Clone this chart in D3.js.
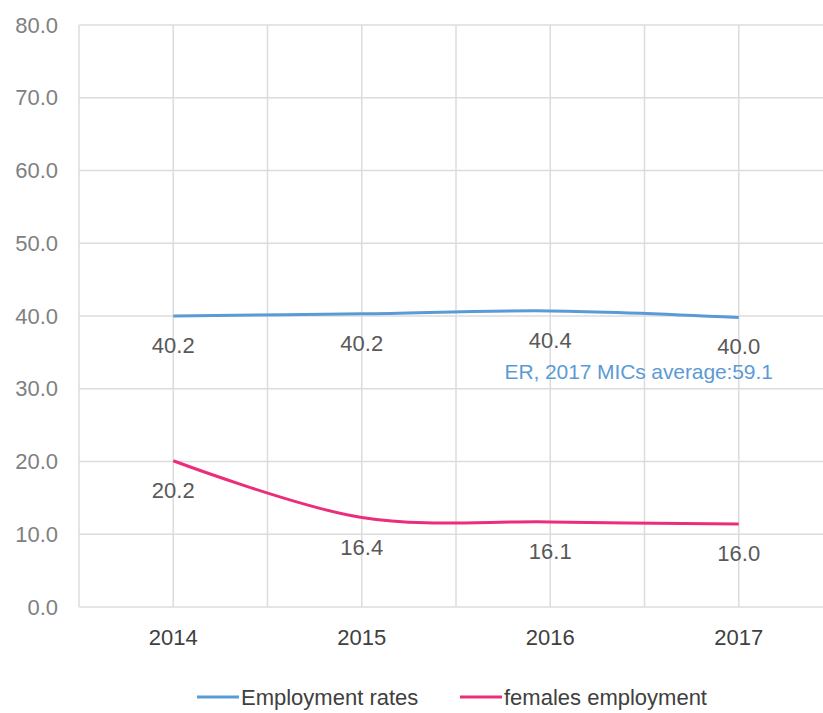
<!DOCTYPE html>
<html>
<head>
<meta charset="utf-8">
<script src="https://cdn.jsdelivr.net/npm/d3@7"></script>
<style>
  body { margin: 0; background: #fff; }
  text { font-family: "Liberation Sans", Arial, sans-serif; }
</style>
</head>
<body>
<div id="chart"></div>
<script>
// data
const years = ["2014", "2015", "2016", "2017"];
const employment = [40.0, 40.3, 40.7, 39.8];
const employmentLabels = ["40.2", "40.2", "40.4", "40.0"];
const females = [20.1, 12.3, 11.7, 11.4];
const femalesLabels = ["20.2", "16.4", "16.1", "16.0"];
const yTicks = [0, 10, 20, 30, 40, 50, 60, 70, 80];
const seriesNames = ["Employment rates", "females employment"];
const seriesColors = ["#5b9bd5", "#ec2d7c"];
const note = "ER, 2017 MICs average:59.1";

const width = 823, height = 713;
const margin = {top: 25, right: -10, bottom: 106, left: 79};
const innerW = width - margin.left - margin.right;
const innerH = height - margin.top - margin.bottom;

const svg = d3.select("#chart").append("svg")
    .attr("width", width)
    .attr("height", height);
const g = svg.append("g")
    .attr("transform", `translate(${margin.left},${margin.top})`);

const x = d3.scaleBand().domain(years).range([0, innerW]);
const xc = d => x(d) + x.bandwidth() / 2;
const y = d3.scaleLinear().domain([0, 80]).range([innerH, 0]);

// grid
const gridColor = "#dcdcdc";
g.selectAll(".hgrid").data(yTicks).enter().append("line")
    .attr("x1", 0).attr("x2", innerW)
    .attr("y1", d => y(d)).attr("y2", d => y(d))
    .attr("stroke", gridColor).attr("stroke-width", 1.5);
const vlines = [0].concat(years.map(d => x(d) + x.bandwidth()), years.map(xc));
g.selectAll(".vgrid").data(vlines).enter().append("line")
    .attr("x1", d => d).attr("x2", d => d)
    .attr("y1", 0).attr("y2", innerH)
    .attr("stroke", gridColor).attr("stroke-width", 1.5);

// y tick labels
g.selectAll(".ytick").data(yTicks).enter().append("text")
    .attr("x", -21).attr("y", d => y(d))
    .attr("dy", "0.35em")
    .attr("text-anchor", "end")
    .attr("font-size", 22)
    .attr("fill", "#808080")
    .text(d => d.toFixed(1));

// x tick labels
g.selectAll(".xtick").data(years).enter().append("text")
    .attr("x", d => xc(d)).attr("y", innerH + 38)
    .attr("text-anchor", "middle")
    .attr("font-size", 22)
    .attr("fill", "#404040")
    .text(d => d);

// lines
const line = d3.line()
    .x((d, i) => xc(years[i]))
    .y(d => y(d))
    .curve(d3.curveCatmullRom.alpha(0.5));

[employment, females].forEach((s, k) => {
  g.append("path")
      .datum(s)
      .attr("fill", "none")
      .attr("stroke", seriesColors[k])
      .attr("stroke-width", 3)
      .attr("d", line);
});

// data labels
[[employment, employmentLabels], [females, femalesLabels]].forEach(([vals, labs]) => {
  g.selectAll(null).data(vals).enter().append("text")
      .attr("x", (d, i) => xc(years[i]))
      .attr("y", d => y(d) + 37)
      .attr("text-anchor", "middle")
      .attr("font-size", 22)
      .attr("fill", "#595959")
      .text((d, i) => labs[i]);
});

// note
g.append("text")
    .attr("x", xc("2017") + 34)
    .attr("y", y(employment[3]) + 62)
    .attr("text-anchor", "end")
    .attr("font-size", 21)
    .attr("letter-spacing", -0.1)
    .attr("fill", seriesColors[0])
    .text(note);

// legend (kept just inside the bottom edge)
const legend = svg.append("g").attr("transform", "translate(197,697)");
const legX = [0, 263];
seriesNames.forEach((name, k) => {
  const lg = legend.append("g").attr("transform", `translate(${legX[k]},0)`);
  lg.append("line")
      .attr("x1", 0).attr("x2", 42)
      .attr("y1", 0).attr("y2", 0)
      .attr("stroke", seriesColors[k]).attr("stroke-width", 3);
  lg.append("text")
      .attr("x", 44).attr("y", 0)
      .attr("dy", "0.35em")
      .attr("font-size", 22)
      .attr("fill", "#404040")
      .text(name);
});
</script>
</body>
</html>
